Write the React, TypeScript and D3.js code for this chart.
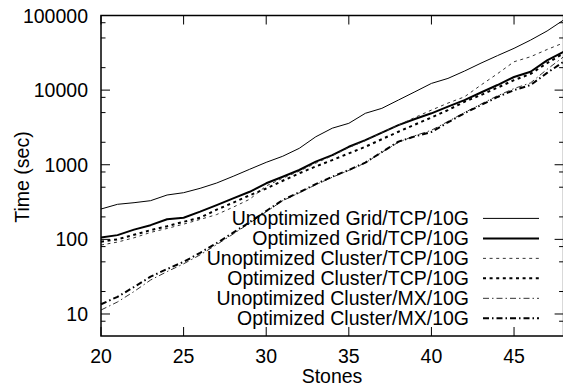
import React from "react";
import * as d3 from "d3";

const stones = [20,21,22,23,24,25,26,27,28,29,30,31,32,33,34,35,36,37,38,39,40,41,42,43,44,45,46,47,48];

const unoptGridTcp = [255,295,310,330,393,422,483,569,700,870,1077,1300,1660,2370,3090,3590,4890,5700,7360,9500,12300,14350,18000,23000,29000,36300,46800,62000,87000];
const optGridTcp = [106,114,135,155,186,195,235,288,355,434,564,690,850,1100,1346,1740,2140,2700,3390,4100,4890,6000,7360,9300,11700,15000,17600,25000,32600];
const unoptClusterTcp = [84,92,105,124,140,160,185,215,270,345,520,660,820,1050,1320,1700,2100,2700,3400,4300,5400,6700,8130,11700,16600,24000,28000,35000,43000];
const optClusterTcp = [93,100,115,133,150,172,195,250,310,390,480,610,767,950,1155,1420,1740,2200,2770,3450,4300,5400,6980,8600,10800,13600,16500,23000,31000];
const unoptClusterMx = [11.3,14.5,20,28.5,37,47,62,85,118,165,235,330,420,540,680,840,1060,1470,2000,2450,2900,3800,5000,6500,8400,10500,12500,19000,28000];
const optClusterMx = [13.5,17,23,31.6,40,50,66,89,123,170,240,336,427,550,692,851,1070,1480,2040,2400,2750,3700,4900,6300,8100,10000,11700,17000,24000];

const seriesNames = [
  "Unoptimized Grid/TCP/10G",
  "Optimized Grid/TCP/10G",
  "Unoptimized Cluster/TCP/10G",
  "Optimized Cluster/TCP/10G",
  "Unoptimized Cluster/MX/10G",
  "Optimized Cluster/MX/10G",
];
const seriesValues = [unoptGridTcp, optGridTcp, unoptClusterTcp, optClusterTcp, unoptClusterMx, optClusterMx];

const xTicks = [20, 25, 30, 35, 40, 45];
const yMajorTicks = [10, 100, 1000, 10000, 100000];
const yTickLabels = ["10", "100", "1000", "10000", "100000"];
const yMinorTicks = [8, 20, 50, 80, 200, 500, 800, 2000, 5000, 8000, 20000, 50000, 80000];

const styles = [
  { w: 1, dash: "", color: "#000" },
  { w: 2, dash: "", color: "#000" },
  { w: 1, dash: "3,3.6", color: "#333" },
  { w: 2, dash: "3,3.6", color: "#000" },
  { w: 1, dash: "6,3,1.5,3", color: "#333" },
  { w: 2, dash: "6,3,1.5,3", color: "#000" },
];

export default function App() {
  const W = 563, H = 389;
  const left = 101, right = 563.6, top = 15.5, bottom = 336;
  const x = d3.scaleLinear().domain([20, 48]).range([left, right]);
  const y = d3.scaleLog().domain([5.07, 100000]).range([bottom, top]);
  const font = "'Liberation Sans', Arial, Helvetica, sans-serif";
  const fs = 19.5;

  const line = d3.line<[number, number]>().x(d => x(d[0])).y(d => y(d[1]));

  const legendTextX = 469;
  const legendLineX1 = 483, legendLineX2 = 539;
  const legendY0 = 218.4, legendDy = 19.98;

  return (
    <svg width={W} height={H} style={{ position: "absolute", left: 0, top: 0, background: "#fff" }}>
      <rect x={0} y={0} width={W} height={H} fill="#fff" />
      {/* series */}
      {seriesValues.map((vals, i) => (
        <path key={i}
          d={line(stones.map((s, j) => [s, vals[j]] as [number, number])) || ""}
          fill="none" stroke={styles[i].color} strokeWidth={styles[i].w}
          strokeDasharray={styles[i].dash || undefined} strokeLinejoin="round" />
      ))}
      {/* ticks */}
      {xTicks.map(t => (
        <g key={"xt" + t}>
          <line x1={x(t)} x2={x(t)} y1={bottom} y2={bottom - 9} stroke="#000" strokeWidth={1} />
          <line x1={x(t)} x2={x(t)} y1={top} y2={top + 9} stroke="#000" strokeWidth={1} />
          <text x={x(t)} y={363} textAnchor="middle" fontFamily={font} fontSize={fs}>{t}</text>
        </g>
      ))}
      {yMajorTicks.map((t, i) => (
        <g key={"yt" + t}>
          <line x1={left} x2={left + 9} y1={y(t)} y2={y(t)} stroke="#000" strokeWidth={1} />
          <line x1={right} x2={right - 9} y1={y(t)} y2={y(t)} stroke="#000" strokeWidth={1} />
          <text x={88} y={y(t) + 7} textAnchor="end" fontFamily={font} fontSize={fs}>{yTickLabels[i]}</text>
        </g>
      ))}
      {yMinorTicks.map(t => (
        <g key={"ym" + t}>
          <line x1={left} x2={left + 4.5} y1={y(t)} y2={y(t)} stroke="#000" strokeWidth={1} />
          <line x1={right} x2={right - 4.5} y1={y(t)} y2={y(t)} stroke="#000" strokeWidth={1} />
        </g>
      ))}
      {/* border */}
      <rect x={left} y={top} width={right - left} height={bottom - top} fill="none" stroke="#000" strokeWidth={1.5} />
      {/* legend */}
      {seriesNames.map((name, i) => {
        const ly = legendY0 + i * legendDy;
        return (
          <g key={"lg" + i}>
            <text x={legendTextX} y={ly + 7} textAnchor="end" fontFamily={font} fontSize={fs}>{name}</text>
            <line x1={legendLineX1} x2={legendLineX2} y1={ly} y2={ly} stroke={styles[i].color}
              strokeWidth={styles[i].w} strokeDasharray={styles[i].dash || undefined} />
          </g>
        );
      })}
      {/* axis titles */}
      <text x={332} y={383} textAnchor="middle" fontFamily={font} fontSize={fs}>Stones</text>
      <text transform={`translate(29,177) rotate(-90)`} textAnchor="middle" fontFamily={font} fontSize={fs}>Time (sec)</text>
    </svg>
  );
}
